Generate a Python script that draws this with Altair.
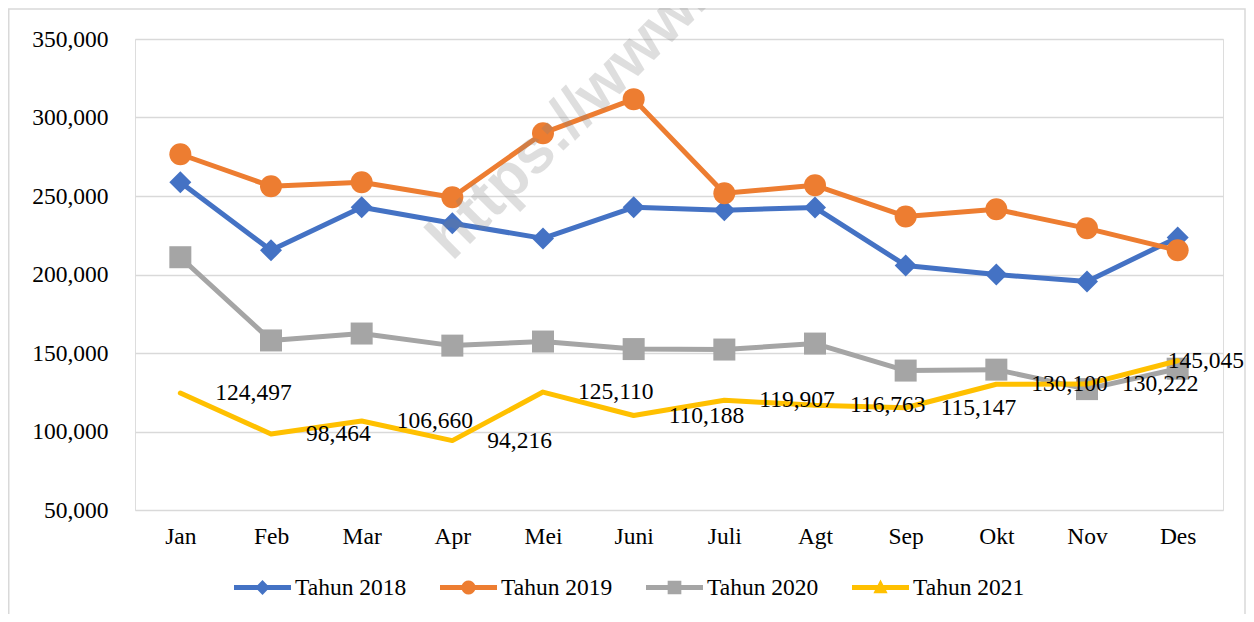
import altair as alt
import pandas as pd

months = ["Jan", "Feb", "Mar", "Apr", "Mei", "Juni", "Juli", "Agt", "Sep", "Okt", "Nov", "Des"]
series_names = ["Tahun 2018", "Tahun 2019", "Tahun 2020", "Tahun 2021"]
v2018 = [258700, 215400, 242800, 232600, 223000, 242800, 241000, 242600, 205800, 200000, 195600, 223600]
v2019 = [276600, 256200, 258700, 249200, 290000, 311700, 251700, 256800, 237000, 241500, 229400, 215400]
v2020 = [211000, 158000, 162400, 154700, 157300, 152500, 152200, 156000, 138800, 139400, 127000, 140000]
v2021 = [124497, 98464, 106660, 94216, 125110, 110188, 119907, 116763, 115147, 130100, 130222, 145045]
y_ticks = [50000, 100000, 150000, 200000, 250000, 300000, 350000]
watermark_text = ["https://www."]

colors = ["#4472C4", "#ED7D31", "#A5A5A5", "#FFC000"]
marker_shapes = ["diamond", "circle", "square"]
legend_paths = [
    "M-1,-0.09L-0.17,-0.09L0,-0.26L0.17,-0.09L1,-0.09L1,0.09L0.17,0.09L0,0.26L-0.17,0.09L-1,0.09Z",
    "M-1,-0.09L-0.233,-0.09A0.25,0.25 0 0,1 0.233,-0.09L1,-0.09L1,0.09L0.233,0.09A0.25,0.25 0 0,1 -0.233,0.09L-1,0.09Z",
    "M-1,-0.09L-0.24,-0.09L-0.24,-0.24L0.24,-0.24L0.24,-0.09L1,-0.09L1,0.09L0.24,0.09L0.24,0.24L-0.24,0.24L-0.24,0.09L-1,0.09Z",
    "M-1,-0.09L-0.099,-0.09L0,-0.28L0.099,-0.09L1,-0.09L1,0.09L0.193,0.09L0.25,0.2L-0.25,0.2L-0.193,0.09L-1,0.09Z",
]

FONT = "Liberation Serif"
FS = 23.5

rows = []
for name, vals in zip(series_names, [v2018, v2019, v2020, v2021]):
    for m, v in zip(months, vals):
        rows.append({"month": m, "series": name, "value": v})
df = pd.DataFrame(rows)

W, H = 1088, 471

x_enc = alt.X("month:N", sort=months,
              scale=alt.Scale(type="point", padding=0.5),
              axis=alt.Axis(title=None, labelFont=FONT, labelFontSize=FS, labelColor="black",
                            ticks=False, domain=False, grid=False, labelPadding=14, labelAngle=0))
y_enc = alt.Y("value:Q",
              scale=alt.Scale(domain=[50000, 350000], nice=False, zero=False),
              axis=alt.Axis(title=None, values=y_ticks, format=",.0f", grid=True, gridColor="#d9d9d9",
                            gridWidth=1.5, ticks=False, tickSize=0, domain=False, labelPadding=27,
                            labelFont=FONT, labelFontSize=FS, labelColor="black"))

base = alt.Chart(df)

border = alt.Chart(pd.DataFrame({"a": [0]})).mark_rect(
    fill="transparent", stroke="#d9d9d9", strokeWidth=1.5
).encode(x=alt.value(-126.25), x2=alt.value(1110), y=alt.value(-30), y2=alt.value(640))

layers = [border]
for i, s in enumerate(series_names):
    d = base.transform_filter(alt.datum.series == s)
    layers.append(d.mark_line(color=colors[i], strokeWidth=5, strokeJoin="round", strokeCap="round")
                  .encode(x=x_enc, y=y_enc))
    if i < 3:
        layers.append(d.mark_point(shape=marker_shapes[i], filled=True, size=484, color=colors[i],
                                   opacity=1, strokeWidth=0)
                      .encode(x=x_enc, y=y_enc))

watermark = alt.Chart(pd.DataFrame({"t": watermark_text})).mark_text(
    align="left", baseline="alphabetic", angle=315, font="Liberation Sans", fontWeight="bold",
    fontSize=62, color="#808080", opacity=0.25
).encode(text="t:N", x=alt.value(317), y=alt.value(223))
layers.append(watermark)

lab = base.transform_filter(alt.datum.series == "Tahun 2021")
labels_main = lab.transform_filter(alt.datum.month != "Des").mark_text(
    align="left", baseline="middle", dx=35, font=FONT, fontSize=FS, color="black"
).encode(x=x_enc, y=y_enc, text=alt.Text("value:Q", format=",.0f"))
labels_last = lab.transform_filter(alt.datum.month == "Des").mark_text(
    align="left", baseline="middle", dx=-10, font=FONT, fontSize=FS, color="black"
).encode(x=x_enc, y=y_enc, text=alt.Text("value:Q", format=",.0f"))

leg = alt.Legend(title=None, orient="none", legendX=99, legendY=520, direction="horizontal",
                 symbolSize=3249, symbolStrokeWidth=0, labelFont=FONT, labelFontSize=FS,
                 labelColor="black", labelOffset=4, columnPadding=33, padding=0, columns=4)
legend_layer = base.transform_filter("datum.value < 0").mark_point(
    filled=True, opacity=1, strokeWidth=0
).encode(
    x=x_enc, y=y_enc,
    color=alt.Color("series:N", scale=alt.Scale(domain=series_names, range=colors), legend=leg),
    shape=alt.Shape("series:N", scale=alt.Scale(domain=series_names, range=legend_paths), legend=leg),
)

layers += [labels_main, labels_last, legend_layer]

chart = alt.layer(*layers).properties(
    width=W, height=H,
    autosize=alt.AutoSizeParams(type="none"),
    padding={"left": 127, "top": 31, "right": 23, "bottom": 104},
).configure_view(strokeWidth=0).configure(background="white")

chart.save("out.html", embed_options={"renderer": "svg", "actions": False})
